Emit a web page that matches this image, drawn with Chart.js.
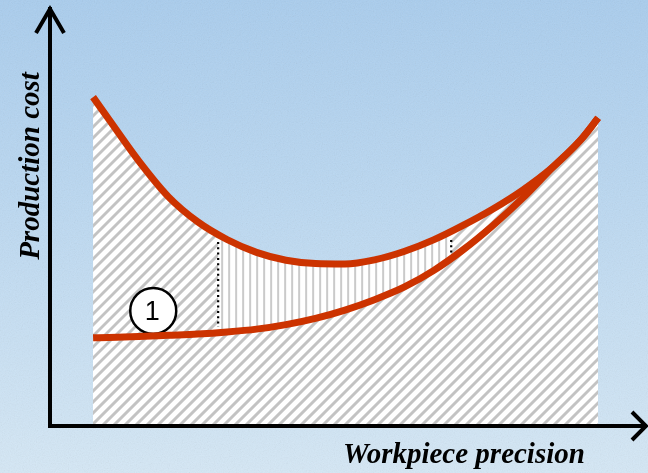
<!DOCTYPE html>
<html>
<head>
<meta charset="utf-8">
<script src="https://cdn.jsdelivr.net/npm/chart.js@4.4.1/dist/chart.umd.min.js"></script>
<style>
  html, body { margin: 0; padding: 0; }
  #wrap {
    position: relative;
    width: 648px;
    height: 473px;
    background: linear-gradient(180deg, #a9cdee 0%, #bcd9f2 45%, #d5e8f6 100%);
    overflow: hidden;
  }
  #grain {
    position: absolute; inset: 0;
    opacity: 0.16;
    background-image: url("data:image/svg+xml;utf8,<svg xmlns='http://www.w3.org/2000/svg' width='648' height='473'><filter id='n'><feTurbulence type='fractalNoise' baseFrequency='0.85' numOctaves='2' stitchTiles='stitch'/><feColorMatrix type='saturate' values='0'/></filter><rect width='100%' height='100%' filter='url(%23n)'/></svg>");
  }
  #chart { position: absolute; left: 0; top: 0; }
</style>
</head>
<body>
<div id="wrap">
  <div id="grain"></div>
  <canvas id="chart" width="648" height="473"></canvas>
</div>
<script>
// precision along the x axis, cost up the y axis (both 0..100)
const precision = [7.3, 10, 15, 20, 25, 30, 35, 40, 45, 50, 55, 60, 65, 70, 75, 80, 85, 90, 92.9];
const totalCost = [79.0, 73.6, 63.7, 55.1, 49.0, 44.7, 41.6, 39.7, 38.9, 38.8, 39.8, 41.8, 44.6, 48.1, 52.0, 56.5, 61.9, 68.8, 74.0];
const curveOne  = [21.0, 21.1, 21.3, 21.6, 21.9, 22.4, 23.1, 24.2, 25.7, 27.7, 30.2, 33.2, 37.2, 42.2, 48.0, 54.5, 61.8, 68.8, 74.0];

// economic band limits (dotted drop lines)
const dropX = [28.5, 68.0];
const dropTop = [44.1, 44.6];
const dropBottom = [23.6, 41.4];

// circled curve marker
const markerX = [17.5];
const markerY = [27.5];
const markerText = ["1"];

const xLabel = "Workpiece precision";
const yLabel = "Production cost";

const RED = "#cc3300";

const patternCache = {};

function hatchPattern(chart, withBand) {
  const key = (withBand ? "band" : "plain") + chart.width + "x" + chart.height;
  if (patternCache[key]) return patternCache[key];
  const w = chart.width, h = chart.height;
  const c = document.createElement("canvas");
  c.width = w; c.height = h;
  const g = c.getContext("2d");
  g.fillStyle = "#ffffff";
  g.fillRect(0, 0, w, h);
  g.strokeStyle = "#c3c3c3";
  g.lineWidth = 3;
  for (let x = -h; x < w + h; x += 11) {
    g.beginPath();
    g.moveTo(x, h);
    g.lineTo(x + h, 0);
    g.stroke();
  }
  if (withBand) {
    const xs = chart.scales.x;
    const a = xs.getPixelForValue(dropX[0]);
    const b = xs.getPixelForValue(dropX[1]);
    g.fillStyle = "#ffffff";
    g.fillRect(a, 0, b - a, h);
    g.strokeStyle = "#cacaca";
    g.lineWidth = 2;
    for (let x = a + 4; x < b; x += 7) {
      g.beginPath();
      g.moveTo(x, 0);
      g.lineTo(x, h);
      g.stroke();
    }
  }
  patternCache[key] = chart.ctx.createPattern(c, "no-repeat");
  return patternCache[key];
}

const toPoints = (xs, ys) => xs.map((x, i) => ({ x: x, y: ys[i] }));

const decorations = {
  id: "decorations",
  afterDatasetsDraw(chart) {
    const ctx = chart.ctx;
    const { left, right, top, bottom } = chart.chartArea;
    const xs = chart.scales.x, ys = chart.scales.y;
    ctx.save();

    // number inside the circle
    ctx.fillStyle = "#000";
    ctx.font = "27px 'Liberation Sans', Arial, sans-serif";
    ctx.textAlign = "center";
    ctx.textBaseline = "middle";
    markerText.forEach((t, i) => {
      ctx.fillText(t, xs.getPixelForValue(markerX[i]) - 1, ys.getPixelForValue(markerY[i]) + 2);
    });

    // axes with open arrow heads
    ctx.strokeStyle = "#000";
    ctx.lineWidth = 4;
    ctx.lineCap = "square";
    ctx.lineJoin = "miter";
    ctx.beginPath();
    ctx.moveTo(left, bottom + 1);
    ctx.lineTo(left, top - 1);
    ctx.moveTo(left, bottom + 1);
    ctx.lineTo(right + 5, bottom + 1);
    ctx.stroke();

    ctx.lineCap = "butt";
    ctx.beginPath();
    ctx.moveTo(left - 14, top + 23);
    ctx.lineTo(left, top - 1);
    ctx.lineTo(left + 14, top + 23);
    ctx.moveTo(right - 8, bottom - 13);
    ctx.lineTo(right + 6, bottom + 1);
    ctx.lineTo(right - 8, bottom + 15);
    ctx.stroke();

    // axis titles
    ctx.font = "italic bold 29px 'Liberation Serif', 'Times New Roman', serif";
    ctx.textBaseline = "alphabetic";
    ctx.textAlign = "left";
    ctx.fillText(xLabel, 343, 463);

    ctx.translate(39, 166);
    ctx.rotate(-Math.PI / 2);
    ctx.textAlign = "center";
    ctx.fillText(yLabel, 0, 0);
    ctx.restore();
  }
};

new Chart(document.getElementById("chart"), {
  type: "line",
  data: {
    datasets: [
      {
        label: "curve 1",
        data: toPoints(precision, curveOne),
        borderColor: RED,
        borderWidth: 7,
        cubicInterpolationMode: "monotone",
        pointRadius: 0,
        fill: "origin",
        backgroundColor: (c) => c.chart.chartArea ? hatchPattern(c.chart, false) : "#fff",
        order: 0
      },
      {
        label: "total cost",
        data: toPoints(precision, totalCost),
        borderColor: RED,
        borderWidth: 7,
        cubicInterpolationMode: "monotone",
        pointRadius: 0,
        fill: "origin",
        backgroundColor: (c) => c.chart.chartArea ? hatchPattern(c.chart, true) : "#fff",
        order: 0
      },
      {
        label: "limit a",
        data: [{ x: dropX[0], y: dropTop[0] }, { x: dropX[0], y: dropBottom[0] }],
        borderColor: "#000",
        borderWidth: 2.2,
        borderDash: [2, 3.3],
        pointRadius: 0,
        fill: false,
        order: 1
      },
      {
        label: "limit b",
        data: [{ x: dropX[1], y: dropTop[1] }, { x: dropX[1], y: dropBottom[1] }],
        borderColor: "#000",
        borderWidth: 2.2,
        borderDash: [2, 3.3],
        pointRadius: 0,
        fill: false,
        order: 1
      },
      {
        label: "marker",
        data: toPoints(markerX, markerY),
        showLine: false,
        pointRadius: 23,
        pointBackgroundColor: "#fff",
        pointBorderColor: "#000",
        pointBorderWidth: 2.5,
        fill: false,
        order: 5
      }
    ]
  },
  options: {
    responsive: false,
    animation: false,
    layout: { autoPadding: false, padding: { left: 50, right: 8, top: 10, bottom: 48 } },
    scales: {
      x: { type: "linear", min: 0, max: 100, display: false },
      y: { type: "linear", min: 0, max: 100, display: false }
    },
    plugins: {
      legend: { display: false },
      tooltip: { enabled: false },
      filler: { drawTime: "beforeDatasetsDraw" }
    }
  },
  plugins: [decorations]
});
</script>
</body>
</html>
